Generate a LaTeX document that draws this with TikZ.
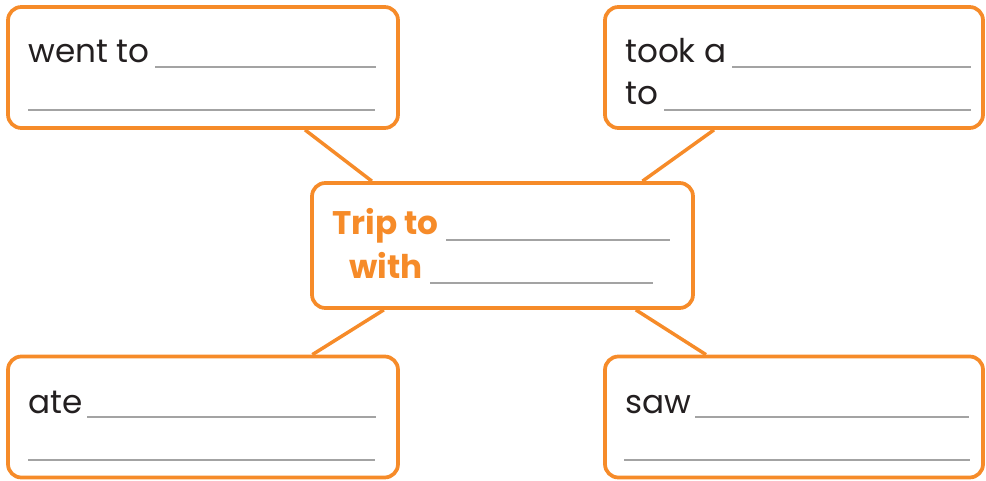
\documentclass[tikz,border=0pt]{standalone}
\usepackage{fontspec}
\setmainfont{Poppins}
\usetikzlibrary{backgrounds, calc}
\definecolor{triporange}{HTML}{F68B29}
\definecolor{inkblack}{HTML}{231F20}
\definecolor{blankgray}{HTML}{A3A3A3}
\tikzset{
	boxnode/.style={
			draw=triporange,
			line width=2.8pt,
			fill=white,
			rounded corners=10pt,
			inner sep=0pt,
			minimum height=90.75pt
		},
	leftbox/.style={
			boxnode,
			minimum width=292.5pt
		},
	rightbox/.style={
			boxnode,
			minimum width=283.5pt
		},
	wordnode/.style={
			anchor=base west,
			inner sep=0pt,
			text=inkblack,
			font=\fontsize{24.5}{29}\selectfont
		},
	titlenode/.style={
			wordnode,
			text=triporange,
			font=\fontsize{24.5}{29}\selectfont\bfseries
		},
	blankline/.style={
			draw=blankgray,
			line width=0.8pt
		},
	linkline/.style={
			draw=triporange,
			line width=2.6pt
		}
}

\begin{document}
\begin{tikzpicture}[x=0.75pt, y=-0.75pt]
\useasboundingbox (0,0) rectangle (986,481);

% boxes
\node[leftbox] (b1) at (203,67.5) {};
\node[rightbox] (b2) at (794,67.5) {};
\node[boxnode, minimum width=285.75pt, minimum height=93.75pt] (c) at (502.5,245.5) {};
\node[leftbox] (b3) at (203,417) {};
\node[rightbox] (b4) at (794,417) {};

\begin{scope}[on background layer]
\draw[linkline] ([xshift=76.5pt]b1.south) -- ([xshift=-98pt]c.north);
\draw[linkline] ([xshift=-60pt]b2.south) -- ([xshift=105pt]c.north);
\draw[linkline] ([xshift=-89pt]c.south) -- ([xshift=82pt]b3.north);
\draw[linkline] ([xshift=100pt]c.south) -- ([xshift=-66pt]b4.north);
\end{scope}

% texts
\node[wordnode] (w1) at (28,63) {went to};
\node[wordnode] (w2) at (625,63) {took a};
\node[wordnode] (w3) at (625,105) {to};
\node[titlenode] (t1) at (332,235) {Trip to};
\node[titlenode] (t2) at (349,278) {with};
\node[wordnode] (w4) at (28,413) {ate};
\node[wordnode] (w5) at (625,413) {saw};

% blanks
\draw[blankline] (155,67) -- (376,67);
\draw[blankline] (28,110) -- (375,110);
\draw[blankline] (732,67) -- (971,67);
\draw[blankline] (664,110) -- (971,110);
\draw[blankline] (446,240) -- (670,240);
\draw[blankline] (430,283) -- (653,283);
\draw[blankline] (87,417) -- (376,417);
\draw[blankline] (28,460) -- (375,460);
\draw[blankline] (695,417) -- (969,417);
\draw[blankline] (624,460) -- (970,460);
\end{tikzpicture}
\end{document}
